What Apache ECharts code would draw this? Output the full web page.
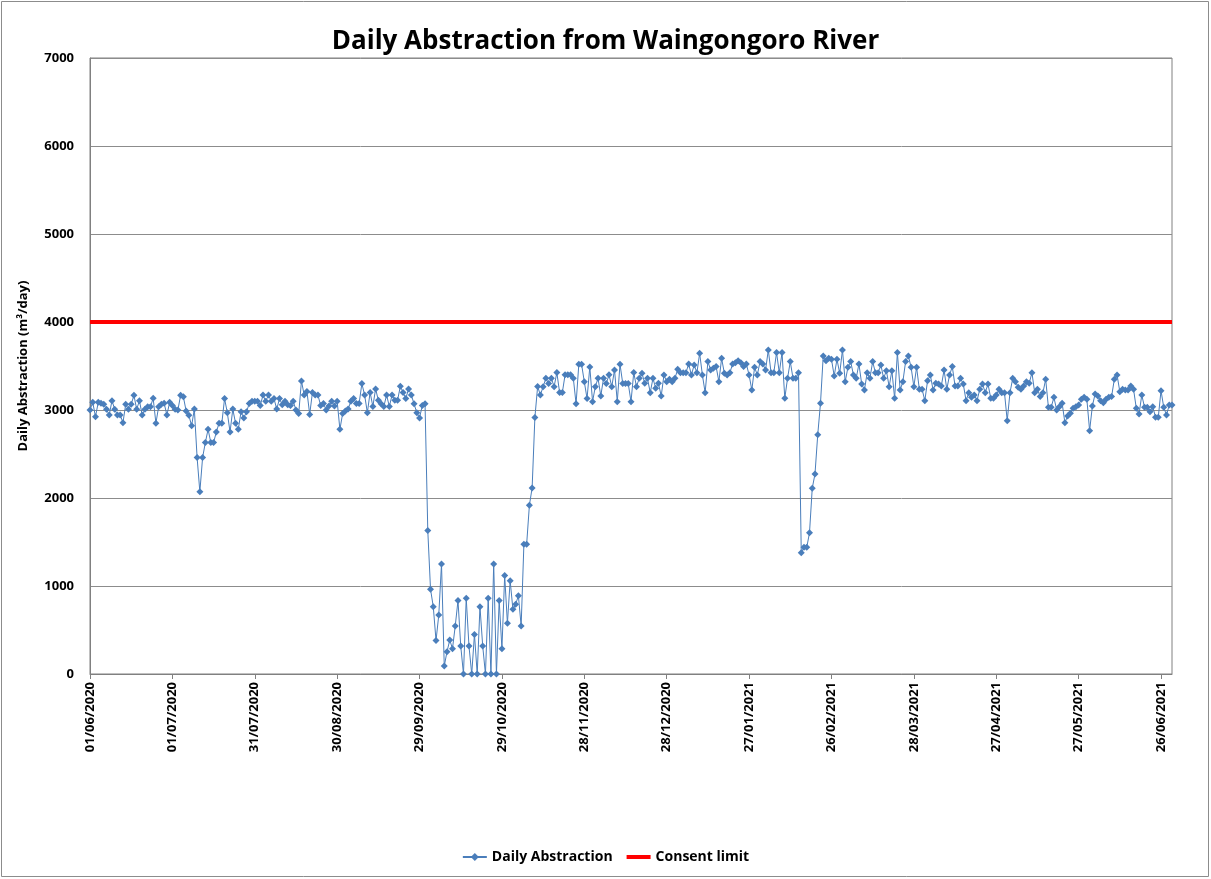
<!DOCTYPE html>
<html>
<head>
<meta charset="utf-8">
<title>Daily Abstraction from Waingongoro River</title>
<script src="https://cdn.jsdelivr.net/npm/echarts@6/dist/echarts.min.js"></script>
<style>
  html, body { margin: 0; padding: 0; background: #fff; }
  #chart { width: 1211px; height: 879px; }
</style>
</head>
<body>
<div id="chart"></div>
<script>
// daily abstraction (m3/day), one array per month
const jun2020 = [3000, 3087, 2924, 3087, 3076, 3064, 3008, 2943, 3106, 3008, 2943, 2943, 2856, 3064, 3008,
  3064, 3167, 3008, 3106, 2943, 3008, 3038, 3038, 3133, 2850, 3038, 3064, 3076, 2943, 3087]
const jul2020 = [3050, 3008, 3000, 3167, 3150, 2990, 2940, 2820, 3010, 2460, 2070, 2460, 2630, 2780, 2630,
  2630, 2750, 2850, 2850, 3130, 2970, 2750, 3010, 2850, 2780, 2980, 2910, 2980, 3075, 3100, 3100]
const aug2020 = [3100, 3050, 3170, 3100, 3170, 3100, 3130, 3010, 3130, 3060, 3100, 3060, 3050, 3100, 3000,
  2960, 3330, 3170, 3210, 2950, 3200, 3170, 3170, 3050, 3075, 3000, 3045, 3100, 3045, 3100, 2780]
const sep2020 = [2960, 2990, 3010, 3100, 3130, 3075, 3075, 3300, 3170, 2970, 3200, 3040, 3240, 3110, 3070,
  3040, 3170, 3040, 3170, 3110, 3110, 3270, 3200, 3130, 3240, 3170, 3070, 2970, 2910, 3050]
const oct2020 = [3070, 1630, 963, 765, 380, 670, 1250, 90, 254, 386, 288, 546, 834, 318, 0,
  860, 318, 0, 450, 0, 765, 318, 0, 860, 0, 1250, 0, 834, 288, 1118, 576]
const nov2020 = [1060, 735, 792, 890, 546, 1474, 1474, 1918, 2115, 2914, 3267, 3170, 3265, 3360, 3300,
  3360, 3265, 3425, 3200, 3200, 3400, 3400, 3400, 3360, 3070, 3520, 3520, 3320, 3130, 3490]
const dec2020 = [3095, 3265, 3360, 3160, 3360, 3300, 3400, 3265, 3455, 3095, 3520, 3300, 3300, 3300, 3095,
  3425, 3265, 3360, 3417, 3303, 3360, 3197, 3360, 3246, 3303, 3159, 3398, 3322, 3349, 3322, 3360]
const jan2021 = [3462, 3424, 3424, 3424, 3523, 3398, 3512, 3424, 3644, 3398, 3197, 3550, 3455, 3474, 3493,
  3322, 3587, 3417, 3398, 3424, 3523, 3538, 3560, 3538, 3493, 3523, 3398, 3227, 3485, 3398, 3550]
const feb2021 = [3523, 3455, 3682, 3424, 3424, 3652, 3424, 3652, 3133, 3360, 3550, 3360, 3360, 3424,
  1378, 1439, 1439, 1606, 2110, 2273, 2720, 3076, 3614, 3560, 3587, 3576, 3387, 3576]
const mar2021 = [3417, 3682, 3322, 3485, 3550, 3398, 3360, 3523, 3296, 3227, 3424, 3360, 3550, 3424, 3424,
  3512, 3360, 3447, 3265, 3447, 3133, 3652, 3227, 3322, 3550, 3614, 3485, 3265, 3485, 3235, 3235]
const apr2021 = [3106, 3333, 3398, 3227, 3303, 3296, 3273, 3455, 3235, 3398, 3493, 3273, 3273, 3360, 3296,
  3106, 3197, 3144, 3170, 3106, 3235, 3296, 3197, 3296, 3133, 3133, 3170, 3235, 3197, 3197]
const may2021 = [2879, 3197, 3360, 3322, 3258, 3235, 3273, 3322, 3303, 3424, 3197, 3235, 3152, 3197, 3349,
  3030, 3030, 3144, 3000, 3038, 3076, 2856, 2932, 2962, 3019, 3038, 3057, 3121, 3144, 3121, 2765]
const jun2021 = [3045, 3182, 3159, 3106, 3083, 3121, 3144, 3152, 3349, 3398, 3208, 3235, 3227, 3227, 3273,
  3235, 3019, 2955, 3170, 3030, 3030, 2981, 3038, 2917, 2917, 3220, 3030, 2943, 3057, 3057]

const CONSENT_LIMIT = 4000 // m3/day
const START_DATE = Date.UTC(2020, 5, 1) // first day of record, 01/06/2020

const abstraction = [].concat(jun2020, jul2020, aug2020, sep2020, oct2020, nov2020, dec2020,
  jan2021, feb2021, mar2021, apr2021, may2021, jun2021)

// dd/mm/yyyy labels for each day
const pad = (n) => (n < 10 ? '0' + n : '' + n)
const dates = abstraction.map((v, i) => {
  const d = new Date(START_DATE + i * 86400000)
  return pad(d.getUTCDate()) + '/' + pad(d.getUTCMonth() + 1) + '/' + d.getUTCFullYear()
})

const FONT = 'Open Sans'
const chart = echarts.init(document.getElementById('chart'))

const option = {
  animation: false,
  textStyle: { fontFamily: FONT },
  title: {
    text: 'Daily Abstraction from Waingongoro River',
    left: 'center',
    top: 24,
    textStyle: { fontSize: 26, fontWeight: 'bold', color: '#000', fontFamily: FONT }
  },
  // outer chart frame
  graphic: [{
    type: 'rect',
    shape: { x: 1.5, y: 1.5, width: 1207, height: 875 },
    style: { fill: 'none', stroke: '#8c8c8c', lineWidth: 1 },
    silent: true
  }],
  legend: {
    bottom: 10,
    left: 'center',
    itemGap: 14,
    itemWidth: 24,
    itemHeight: 10,
    textStyle: { fontSize: 14, fontWeight: 'bold', color: '#000', fontFamily: FONT },
    data: [
      { name: 'Daily Abstraction' },
      // plain thick line, no marker
      { name: 'Consent limit', icon: 'path://M0,0H24V4H0Z' }
    ]
  },
  grid: {
    left: 90,
    right: 39,
    top: 58,
    bottom: 205,
    show: true,
    borderColor: '#808080',
    borderWidth: 1
  },
  xAxis: {
    type: 'category',
    data: dates,
    boundaryGap: false,
    axisLine: { lineStyle: { color: '#808080', width: 1 } },
    axisTick: { interval: 29, length: 5, lineStyle: { color: '#808080' } },
    axisLabel: {
      interval: 29,
      rotate: 90,
      fontSize: 13,
      fontWeight: 'bold',
      color: '#000',
      margin: 8,
      fontFamily: FONT
    },
    splitLine: { show: false }
  },
  yAxis: {
    type: 'value',
    min: 0,
    max: 7000,
    interval: 1000,
    name: 'Daily Abstraction (m³/day)',
    nameLocation: 'middle',
    nameGap: 60,
    nameTextStyle: { fontSize: 13, fontWeight: 'bold', color: '#000', fontFamily: FONT },
    axisLine: { show: true, lineStyle: { color: '#808080' } },
    axisTick: { show: false },
    axisLabel: {
      fontSize: 13,
      fontWeight: 'bold',
      color: '#000',
      margin: 16,
      fontFamily: FONT,
      formatter: (v) => String(v)
    },
    splitLine: { lineStyle: { color: '#8c8c8c', width: 1 } }
  },
  series: [
    {
      name: 'Daily Abstraction',
      type: 'line',
      data: abstraction,
      symbol: 'diamond',
      symbolSize: 7,
      showAllSymbol: true,
      itemStyle: { color: '#4a7ebb' },
      lineStyle: { color: '#4a7ebb', width: 1 },
      z: 3
    },
    {
      name: 'Consent limit',
      type: 'line',
      data: [],
      symbol: 'none',
      itemStyle: { color: '#ff0000' },
      lineStyle: { color: '#ff0000', width: 4 },
      markLine: {
        silent: true,
        symbol: 'none',
        label: { show: false },
        lineStyle: { color: '#ff0000', width: 4, type: 'solid' },
        data: [{ yAxis: CONSENT_LIMIT }]
      },
      z: 2
    }
  ]
}

chart.setOption(option)
</script>
</body>
</html>
